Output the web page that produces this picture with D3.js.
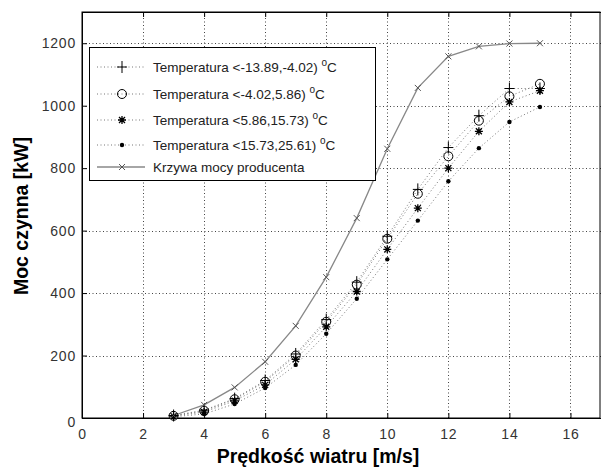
<!DOCTYPE html>
<html>
<head>
<meta charset="utf-8">
<script src="https://cdn.jsdelivr.net/npm/d3@7"></script>
<style>
  body { margin: 0; background: #fff; }
  svg { font-family: "Liberation Sans", Arial, sans-serif; }
</style>
</head>
<body>
<svg id="chart" width="601" height="469"></svg>
<script>
"use strict";

// wind speed [m/s]
var speeds = [3, 4, 5, 6, 7, 8, 9, 10, 11, 12, 13, 14, 15];

// measured power per temperature bin [kW]
var tempA = [8, 25, 62, 120, 205, 315, 435, 582, 732, 866, 968, 1055, 1055];
var tempB = [7, 23, 60, 116, 200, 308, 427, 574, 718, 838, 952, 1030, 1070];
var tempC = [6, 19, 55, 106, 188, 292, 405, 540, 672, 800, 918, 1012, 1048];
var tempD = [4, 13, 45, 96, 170, 270, 382, 508, 632, 758, 864, 948, 996];

// manufacturer power curve [kW]
var producer = [8, 42, 98, 180, 295, 451, 640, 862, 1057, 1158, 1190, 1199, 1200];

var seriesNames = [
    "Temperatura <-13.89,-4.02) ",
    "Temperatura <-4.02,5.86) ",
    "Temperatura <5.86,15.73) ",
    "Temperatura <15.73,25.61) ",
    "Krzywa mocy producenta"
];

var xTicks = [0, 2, 4, 6, 8, 10, 12, 14, 16];
var yTicks = [0, 200, 400, 600, 800, 1000, 1200];

var svg = d3.select("#chart");
var margin = {left: 82, top: 12, right: 0, bottom: 51};
var width = 601 - margin.left - margin.right;
var height = 469 - margin.top - margin.bottom;

var x = d3.scaleLinear().domain([0, 17]).range([margin.left, margin.left + width]);
var y = d3.scaleLinear().domain([0, 1300]).range([margin.top + height, margin.top]);

// grid
var grid = svg.append("g").attr("stroke", "#444").attr("stroke-dasharray", "1,2.5");
grid.selectAll(".gx").data(xTicks.filter(d => d > 0)).enter().append("line")
    .attr("x1", d => Math.round(x(d)) + 0.5).attr("x2", d => Math.round(x(d)) + 0.5)
    .attr("y1", y(0)).attr("y2", y(1300));
grid.selectAll(".gy").data(yTicks.filter(d => d > 0)).enter().append("line")
    .attr("y1", d => Math.round(y(d)) + 0.5).attr("y2", d => Math.round(y(d)) + 0.5)
    .attr("x1", x(0)).attr("x2", x(17));

// axes (ticks inward, matlab style)
var xAxis = d3.axisBottom(x).tickValues(xTicks).tickSizeInner(-5).tickSizeOuter(0).tickPadding(11);
var yAxis = d3.axisLeft(y).tickValues(yTicks).tickFormat(d3.format("d"))
    .tickSizeInner(-5).tickSizeOuter(0).tickPadding(6);

var gx = svg.append("g").attr("transform", "translate(0," + y(0) + ")").call(xAxis);
var gy = svg.append("g").attr("transform", "translate(" + x(0) + ",0)").call(yAxis);
svg.append("g").attr("transform", "translate(0," + y(1300) + ")")
    .call(d3.axisTop(x).tickValues(xTicks).tickSizeInner(-5).tickSizeOuter(0).tickFormat(""));

[gx, gy].forEach(function(g) {
    g.selectAll("text").attr("font-size", 14).attr("fill", "#333")
        .attr("font-family", "Liberation Sans, Arial, sans-serif").attr("letter-spacing", 0.8);
    g.selectAll("line, path").attr("stroke", "#000");
});
// matlab puts the 0 label a bit low on the y axis
gy.selectAll(".tick text").filter(d => d === 0).attr("dy", "0.6em");

svg.append("rect")
    .attr("x", x(0)).attr("y", y(1300))
    .attr("width", x(17) - x(0) - 1).attr("height", y(0) - y(1300))
    .attr("fill", "none").attr("stroke", "#000");

// marker drawing
function marker(g, type, cx, cy) {
    if (type === "plus") {
        g.append("path").attr("d", "M" + (cx - 5) + "," + cy + "H" + (cx + 5) + "M" + cx + "," + (cy - 6) + "V" + (cy + 6))
            .attr("stroke", "#000").attr("fill", "none");
    } else if (type === "circle") {
        g.append("circle").attr("cx", cx).attr("cy", cy).attr("r", 4.5)
            .attr("stroke", "#000").attr("fill", "none");
    } else if (type === "star") {
        g.append("path").attr("d",
            "M" + (cx - 4) + "," + cy + "H" + (cx + 4) + "M" + cx + "," + (cy - 4) + "V" + (cy + 4) +
            "M" + (cx - 3) + "," + (cy - 3) + "L" + (cx + 3) + "," + (cy + 3) +
            "M" + (cx - 3) + "," + (cy + 3) + "L" + (cx + 3) + "," + (cy - 3))
            .attr("stroke", "#000").attr("stroke-width", 1.3).attr("fill", "none");
    } else if (type === "dot") {
        g.append("circle").attr("cx", cx).attr("cy", cy).attr("r", 2.2).attr("fill", "#000");
    } else if (type === "x") {
        g.append("path").attr("d",
            "M" + (cx - 3) + "," + (cy - 3) + "L" + (cx + 3) + "," + (cy + 3) +
            "M" + (cx - 3) + "," + (cy + 3) + "L" + (cx + 3) + "," + (cy - 3))
            .attr("stroke", "#555").attr("fill", "none");
    }
}

var series = [
    {values: tempA, type: "plus", dash: "1,2.5"},
    {values: tempB, type: "circle", dash: "1,2.5"},
    {values: tempC, type: "star", dash: "1,2.5"},
    {values: tempD, type: "dot", dash: "1,2.5"},
    {values: producer, type: "x", dash: null}
];

var line = d3.line().x(d => x(d[0])).y(d => y(d[1]));

var plot = svg.append("g");
series.forEach(function(s) {
    var pts = speeds.map((v, i) => [v, s.values[i]]);
    plot.append("path").datum(pts).attr("d", line)
        .attr("fill", "none").attr("stroke", s.dash ? "#777" : "#888")
        .attr("stroke-width", s.dash ? 1 : 1.3)
        .attr("stroke-dasharray", s.dash);
});
series.forEach(function(s) {
    var g = plot.append("g");
    speeds.forEach((v, i) => marker(g, s.type, x(v), y(s.values[i])));
});

// legend
var leg = svg.append("g");
leg.append("rect").attr("x", 89.5).attr("y", 47.5).attr("width", 286).attr("height", 133)
    .attr("fill", "#fff").attr("stroke", "#000");
var rowY = [67, 94, 120, 145, 167];
series.forEach(function(s, i) {
    var ry = rowY[i];
    leg.append("line").attr("x1", 97).attr("x2", 145).attr("y1", ry).attr("y2", ry)
        .attr("stroke", s.dash ? "#777" : "#888").attr("stroke-width", s.dash ? 1 : 1.3)
        .attr("stroke-dasharray", s.dash);
    marker(leg, s.type, 122, ry);
    var t = leg.append("text").attr("x", 153).attr("y", ry + 5)
        .attr("font-size", 13.5).attr("fill", "#222").text(seriesNames[i]);
    if (i < 4) {
        t.append("tspan").attr("font-size", 10).attr("dy", -6).text("o");
        t.append("tspan").attr("dy", 6).text("C");
    }
});

// axis titles
svg.append("text").attr("x", 318).attr("y", 463).attr("text-anchor", "middle")
    .attr("font-size", 19.5).attr("font-weight", "bold").text("Prędkość wiatru [m/s]");
svg.append("text").attr("transform", "translate(28,216) rotate(-90)").attr("text-anchor", "middle")
    .attr("font-size", 19.5).attr("font-weight", "bold").text("Moc czynna [kW]");
</script>
</body>
</html>
